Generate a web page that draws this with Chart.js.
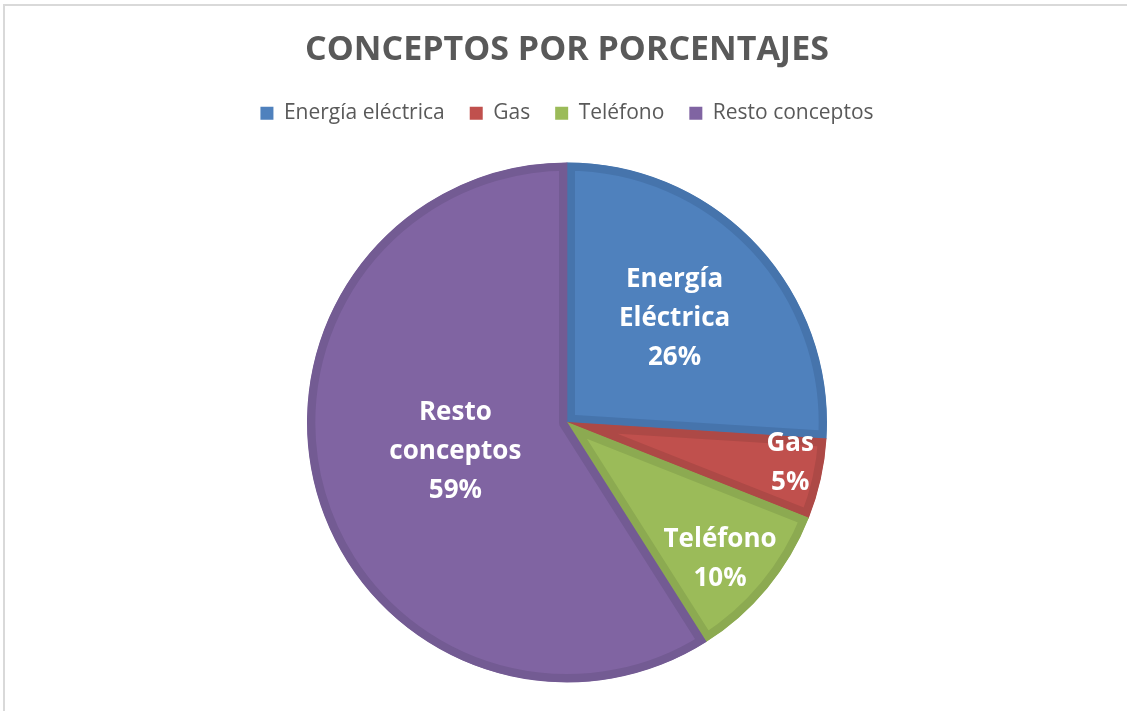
<!DOCTYPE html>
<html>
<head>
<meta charset="utf-8">
<script src="https://cdn.jsdelivr.net/npm/chart.js@4/dist/chart.umd.min.js"></script>
<style>
html,body{margin:0;padding:0;background:#fff;}
#wrap{width:1127px;height:711px;position:relative;}
</style>
</head>
<body>
<div id="wrap"><canvas id="c" width="1127" height="711"></canvas></div>
<script>
const titleText = 'CONCEPTOS POR PORCENTAJES';
const categories = ['Energía eléctrica', 'Gas', 'Teléfono', 'Resto conceptos'];
const labelNames = [['Energía', 'Eléctrica'], ['Gas'], ['Teléfono'], ['Resto', 'conceptos']];
const values = [26, 5, 10, 59];
const fillColors = ['#4F81BD', '#C0504D', '#9BBB59', '#8064A2'];
const edgeColors = ['#4674AC', '#AD4946', '#8CAA51', '#735B93'];

const FONT = '"Open Sans", "Noto Sans", sans-serif';

const framePlugin = {
  id: 'frame',
  beforeDraw(chart) {
    const ctx = chart.ctx;
    ctx.save();
    ctx.fillStyle = '#fff';
    ctx.fillRect(0, 0, chart.width, chart.height);
    ctx.strokeStyle = '#D9D9D9';
    ctx.lineWidth = 2;
    ctx.beginPath();
    ctx.moveTo(4, chart.height);
    ctx.lineTo(4, 5);
    ctx.lineTo(chart.width, 5);
    ctx.stroke();
    ctx.restore();
  }
};

const labelPlugin = {
  id: 'sliceLabels',
  afterDatasetsDraw(chart, args, opts) {
    const meta = chart.getDatasetMeta(0);
    const ctx = chart.ctx;
    ctx.save();
    ctx.fillStyle = '#FFFFFF';
    ctx.textAlign = 'center';
    ctx.textBaseline = 'middle';
    ctx.font = 'bold ' + opts.size + 'px ' + FONT;
    meta.data.forEach((arc, i) => {
      const p = opts.place[i];
      const ang = (p.a - 90) * Math.PI / 180;
      const cx = arc.x + Math.cos(ang) * arc.outerRadius * p.r;
      const cy = arc.y + Math.sin(ang) * arc.outerRadius * p.r + opts.shiftY;
      const lines = labelNames[i].concat([values[i] + '%']);
      const lh = opts.lineHeight;
      const y0 = cy - (lines.length - 1) * lh / 2;
      lines.forEach((t, k) => ctx.fillText(t, cx, y0 + k * lh));
    });
    ctx.restore();
  }
};

new Chart(document.getElementById('c'), {
  type: 'pie',
  data: {
    labels: categories,
    datasets: [{
      data: values,
      backgroundColor: fillColors,
      borderColor: edgeColors,
      hoverBorderColor: edgeColors,
      borderWidth: 8,
      borderAlign: 'inner',
      radius: 260
    }]
  },
  options: {
    responsive: false,
    animation: false,
    events: [],
    layout: { padding: { left: 7, right: 0, top: 0, bottom: -11 } },
    plugins: {
      title: {
        display: true,
        text: titleText,
        color: '#595959',
        font: { family: FONT, size: 34, weight: 'bold', lineHeight: 1.2 },
        padding: { top: 30, bottom: 7 }
      },
      legend: {
        display: true,
        position: 'top',
        labels: {
          color: '#595959',
          font: { family: FONT, size: 21 },
          boxWidth: 13,
          boxHeight: 13,
          padding: 25,
          generateLabels(chart) {
            return categories.map((c, i) => ({
              text: c,
              fillStyle: fillColors[i],
              strokeStyle: fillColors[i],
              lineWidth: 0,
              index: i,
              fontColor: '#595959'
            }));
          }
        }
      },
      tooltip: { enabled: false },
      sliceLabels: {
        size: 26,
        lineHeight: 39,
        shiftY: 4,
        place: [
          { a: 45, r: 0.585 },
          { a: 99.4, r: 0.87 },
          { a: 131, r: 0.78 },
          { a: 257.4, r: 0.44 }
        ]
      }
    }
  },
  plugins: [framePlugin, labelPlugin]
});
</script>
</body>
</html>
